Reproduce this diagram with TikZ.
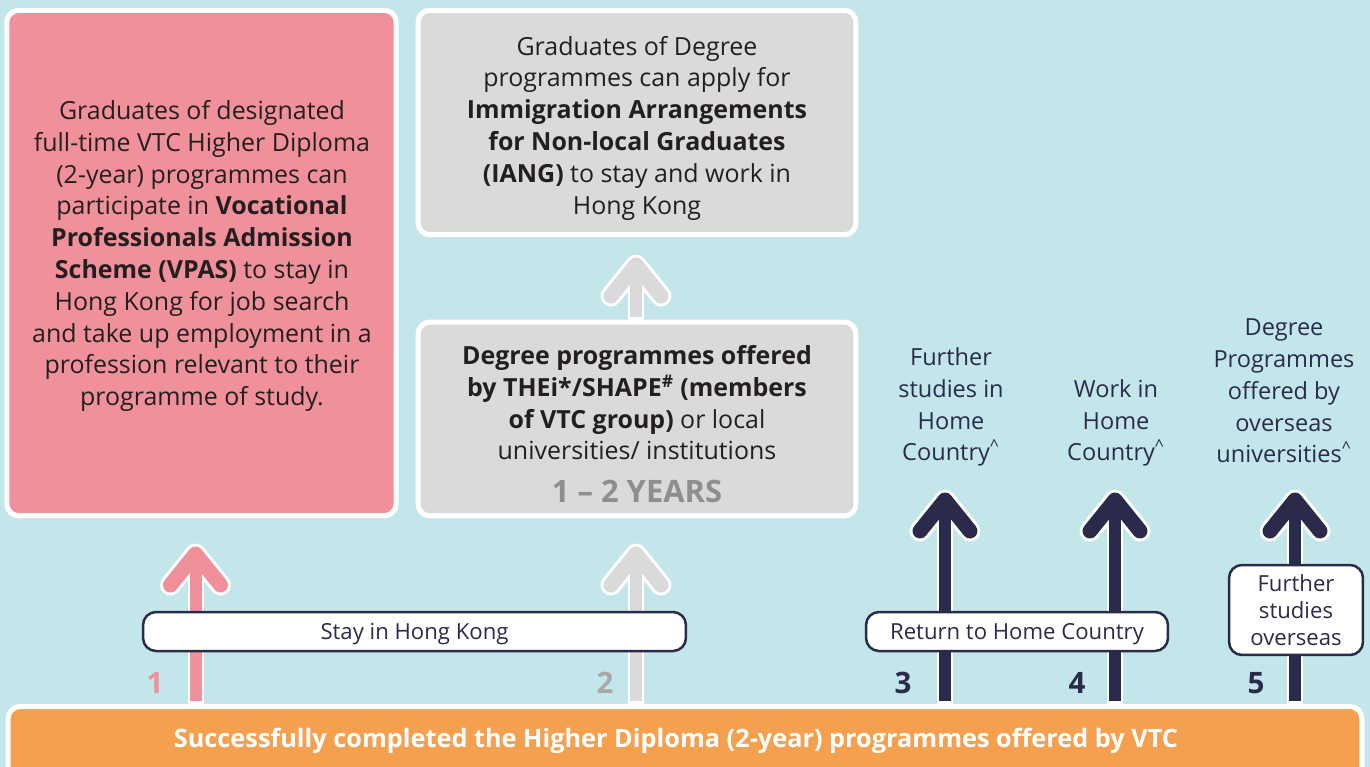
\documentclass[tikz,border=0pt]{standalone}
\usepackage{fontspec}
\setmainfont{Open Sans}
\usetikzlibrary{positioning}

\definecolor{bgcyan}{HTML}{C3E6EA}
\definecolor{vtcpink}{HTML}{F0909A}
\definecolor{vtcgray}{HTML}{DADADA}
\definecolor{vtcorange}{HTML}{F4A04E}
\definecolor{vtcnavy}{HTML}{2A2B4A}
\definecolor{textdark}{HTML}{231F20}
\definecolor{yeargray}{HTML}{8E8E8E}
\definecolor{numgray}{HTML}{A8A8A8}

\newcommand\boxfont{\fontsize{14.2}{18.1}\selectfont}
\newcommand\destfont{\fontsize{13.4}{18.1}\selectfont}
\newcommand\tagfont{\fontsize{12.6}{15.3}\selectfont}
\newcommand\numfont{\fontsize{16.8}{18}\selectfont\bfseries}

\begin{document}
\begin{tikzpicture}[x=0.02cm, y=-0.02cm,
    infobox/.style={draw=white, line width=0.1cm, rounded corners=0.24cm},
    boxtext/.style={align=center, text=textdark, font=\boxfont, inner sep=0},
    tagbox/.style={draw=vtcnavy, fill=white, line width=0.05cm, rounded corners=0.26cm,
      text=vtcnavy, font=\tagfont, inner sep=0, align=center},
    numtext/.style={font=\numfont, inner sep=0},
    desttext/.style={align=center, text=vtcnavy, font=\destfont, inner sep=0}]

    % 画布与背景
    \clip (0,0) rectangle (1370,767);
    \fill[bgcyan] (0,0) rectangle (1370,767);

    % 箭头的尺寸
    \def\armx{25}
    \def\army{31}

    % 上方的三个框
    \node[infobox, fill=vtcpink, minimum width=7.79cm, minimum height=10.11cm] (vpas) at (201.5,263) {};
    \node[boxtext] (vpastext) at (202,256) {Graduates of designated\\
      full-time VTC Higher Diploma\\
      (2-year) programmes can\\
      participate in \textbf{Vocational}\\
      \textbf{Professionals Admission}\\
      \textbf{Scheme (VPAS)} to stay in\\
      Hong Kong for job search\\
      and take up employment in a\\
      profession relevant to their\\
      programme of study.};
    \node[infobox, fill=vtcgray, minimum width=8.76cm, minimum height=4.49cm] (iang) at (637,122.5) {};
    \node[boxtext] (iangtext) at (637,128) {Graduates of Degree\\
      programmes can apply for\\
      \textbf{Immigration Arrangements}\\
      \textbf{for Non-local Graduates}\\
      \textbf{(IANG)} to stay and work in\\
      Hong Kong};
    \node[infobox, fill=vtcgray, minimum width=8.76cm, minimum height=3.88cm] (degree) at (637,419) {};
    \node[boxtext] (degreetext) at (637,424) {\textbf{Degree programmes offered}\\
      \textbf{by THEi*/SHAPE\textsuperscript{\#} (members}\\
      \textbf{of VTC group)} or local\\
      universities/ institutions\\[6pt]
      {\fontsize{17.6}{18}\selectfont\bfseries\color{yeargray}1 -- 2 YEARS}};

    % 底部横条
    \node[infobox, fill=vtcorange, anchor=north, minimum width=27.08cm, minimum height=2cm] (hdbar) at (685,704) {};
    \node[font=\fontsize{14.4}{16}\selectfont\bfseries, text=white, inner sep=0] (hdtext) at (676,741)
      {Successfully completed the Higher Diploma (2-year) programmes offered by VTC};

    % 箭头尖端
    \coordinate (tip1) at (195.5,554);
    \coordinate (tip2) at (636,554);
    \coordinate (tip3) at (945,500);
    \coordinate (tip4) at (1115,500);
    \coordinate (tip5) at (1295,500);
    \coordinate (tipup) at (636,265);

    % 箭头:先画白色描边,再画颜色
    \foreach \from/\to/\col in {hdbar/tip1/vtcpink, hdbar/tip2/vtcgray, hdbar/tip3/vtcnavy,
                                hdbar/tip4/vtcnavy, hdbar/tip5/vtcnavy, degree/tipup/vtcgray} {
      \draw[white, line width=0.32cm] (\from.north -| \to) -- (\to);
      \draw[white, line width=0.42cm, line cap=round, line join=round]
        ([shift={(-\armx,\army)}]\to) -- (\to) -- ([shift={(\armx,\army)}]\to);
      \draw[\col, line width=0.24cm] ([yshift=0.06cm]\from.north -| \to) -- (\to);
      \draw[\col, line width=0.3cm, line cap=round, line join=round]
        ([shift={(-\armx,\army)}]\to) -- (\to) -- ([shift={(\armx,\army)}]\to);
    }

    % 标签框
    \node[tagbox, text depth=0pt, minimum width=10.86cm, minimum height=0.78cm] (stayhk) at (414.5,631.5) {Stay in Hong Kong};
    \node[tagbox, text depth=0pt, minimum width=6.04cm, minimum height=0.78cm] (returnhome) at (1017,631.5) {Return to Home Country};
    \node[tagbox, minimum width=2.68cm, minimum height=1.8cm] (overseas) at (1296,610) {Further\\studies\\overseas};

    % 编号
    \node[numtext, text=vtcpink] (n1) at (155,683) {1};
    \node[numtext, text=numgray] (n2) at (605,683) {2};
    \node[numtext, text=vtcnavy] (n3) at (903,683) {3};
    \node[numtext, text=vtcnavy] (n4) at (1077,683) {4};
    \node[numtext, text=vtcnavy] (n5) at (1256,683) {5};

    % 右侧去向
    \node[desttext] (homestudy) at (951,407) {Further\\studies in\\Home\\Country\textsuperscript{\textasciicircum}};
    \node[desttext] (homework) at (1116,423) {Work in\\Home\\Country\textsuperscript{\textasciicircum}};
    \node[desttext] (overseasdeg) at (1284,391) {Degree\\Programmes\\offered by\\overseas\\universities\textsuperscript{\textasciicircum}};

\end{tikzpicture}
\end{document}
